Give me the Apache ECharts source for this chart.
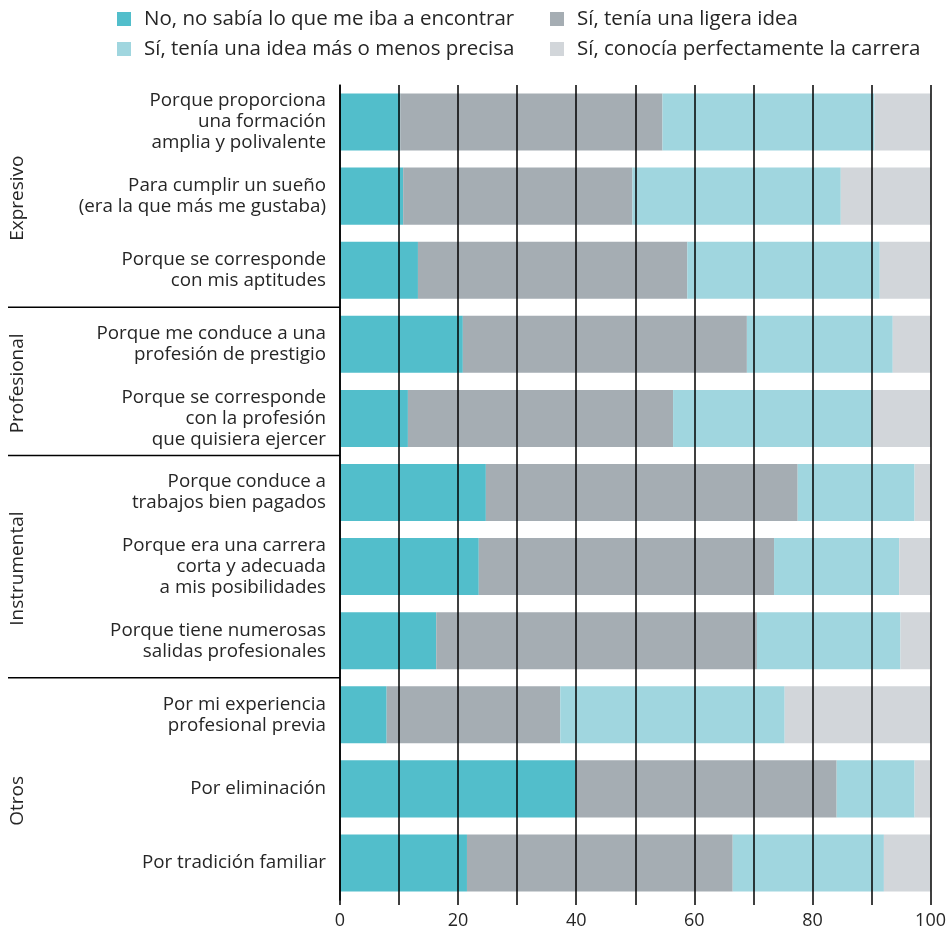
<!DOCTYPE html>
<html>
<head>
<meta charset="utf-8">
<script src="https://cdn.jsdelivr.net/npm/echarts@6/dist/echarts.min.js"></script>
<style>
html,body{margin:0;padding:0;background:#fff;}
#c{width:949px;height:936px;}
</style>
</head>
<body>
<div id="c"></div>
<script>
const categories = [
  'Porque proporciona\nuna formación\namplia y polivalente',
  'Para cumplir un sueño\n(era la que más me gustaba)',
  'Porque se corresponde\ncon mis aptitudes',
  'Porque me conduce a una\nprofesión de prestigio',
  'Porque se corresponde\ncon la profesión\nque quisiera ejercer',
  'Porque conduce a\ntrabajos bien pagados',
  'Porque era una carrera\ncorta y adecuada\na mis posibilidades',
  'Porque tiene numerosas\nsalidas profesionales',
  'Por mi experiencia\nprofesional previa',
  'Por eliminación',
  'Por tradición familiar'
];
const groupNames = ['Expresivo', 'Profesional', 'Instrumental', 'Otros'];
const groupSizes = [3, 2, 3, 3];
const seriesNames = [
  'No, no sabía lo que me iba a encontrar',
  'Sí, tenía una ligera idea',
  'Sí, tenía una idea más o menos precisa',
  'Sí, conocía perfectamente la carrera'
];
const noSabia   = [10.2, 10.7, 13.2, 20.8, 11.5, 24.7, 23.5, 16.3,  7.9, 39.9, 21.5];
const ligera    = [44.4, 38.8, 45.6, 48.1, 44.9, 52.8, 50.0, 54.3, 29.4, 44.2, 45.0];
const precisa   = [35.9, 35.3, 32.6, 24.7, 33.8, 19.8, 21.2, 24.3, 38.0, 13.2, 25.6];
const conocia   = [ 9.5, 15.2,  8.6,  6.4,  9.8,  2.7,  5.3,  5.1, 24.7,  2.7,  7.9];
const xTicks = [0, 20, 40, 60, 80, 100];

const colors = ['#52BECB', '#A5ADB3', '#A0D6DF', '#D2D6DA'];
const values = [noSabia, ligera, precisa, conocia];
const FONT = 'Open Sans';
const TXT = '#262626';

const chart = echarts.init(document.getElementById('c'));
const legendBase = {
  orient: 'vertical', top: 8, padding: 0, itemWidth: 14, itemHeight: 14, itemGap: 8, icon: 'rect',
  textStyle: {fontFamily: FONT, fontSize: 20.5, color: TXT, lineHeight: 22, padding: [0, 0, 0, 8]},
  selectedMode: false
};
const option = {
  animation: false,
  legend: [
    Object.assign({}, legendBase, {left: 117, data: [seriesNames[0], seriesNames[2]]}),
    Object.assign({}, legendBase, {left: 550, data: [seriesNames[1], seriesNames[3]]})
  ],
  grid: {left: 340, right: 18, top: 85, bottom: 36, containLabel: false},
  xAxis: {
    type: 'value', min: 0, max: 100, interval: 10, z: 10,
    axisLine: {show: false},
    axisTick: {show: true, length: 5, lineStyle: {color: '#000', width: 1.5}},
    splitLine: {show: true, lineStyle: {color: '#000', width: 1.5}},
    axisLabel: {
      fontFamily: FONT, fontSize: 18, color: TXT, margin: 12,
      formatter: v => xTicks.indexOf(v) >= 0 ? String(v) : ''
    }
  },
  yAxis: {
    type: 'category', inverse: true, data: categories, z: 10,
    axisLine: {show: true, lineStyle: {color: '#000', width: 1.5}},
    axisTick: {show: false},
    axisLabel: {fontFamily: FONT, fontSize: 18.8, color: TXT, lineHeight: 21, margin: 14, align: 'right'}
  },
  series: seriesNames.map((n, i) => ({
    name: n, type: 'bar', stack: 'total', barCategoryGap: '23%',
    itemStyle: {color: colors[i]}, data: values[i]
  }))
};
chart.setOption(option);

// group labels and separators computed from the axis scale
const graphics = [];
let start = 0;
const band = chart.convertToPixel({yAxisIndex: 0}, categories[1]) - chart.convertToPixel({yAxisIndex: 0}, categories[0]);
for (let g = 0; g < groupNames.length; g++) {
  const end = start + groupSizes[g] - 1;
  const y0 = chart.convertToPixel({yAxisIndex: 0}, categories[start]) - band / 2;
  const y1 = chart.convertToPixel({yAxisIndex: 0}, categories[end]) + band / 2;
  const isLast = g === groupNames.length - 1;
  graphics.push({
    type: 'text', x: 18, y: (y0 + y1) / 2 + (isLast ? 12 : 2), rotation: Math.PI / 2,
    style: {text: groupNames[g], fontFamily: FONT, fontSize: 19, fill: TXT, align: 'center', verticalAlign: 'middle'}
  });
  if (!isLast) {
    graphics.push({
      type: 'line', shape: {x1: 8, y1: y1, x2: 340, y2: y1},
      style: {stroke: '#000', lineWidth: 1.5}
    });
  }
  start = end + 1;
}
chart.setOption({graphic: graphics});
</script>
</body>
</html>
